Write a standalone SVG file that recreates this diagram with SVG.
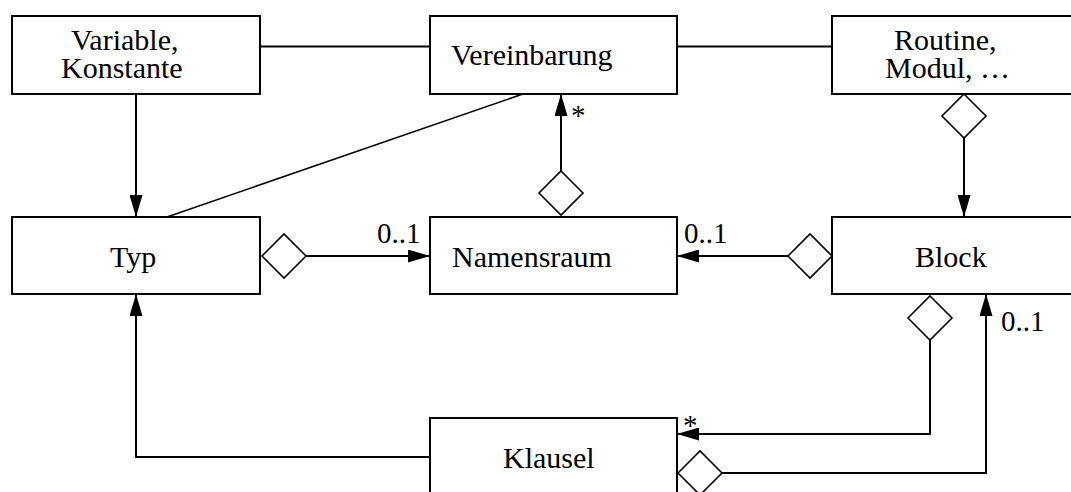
<svg xmlns="http://www.w3.org/2000/svg" width="1071" height="492" viewBox="0 0 1071 492">
  <style>
    .box { fill: #fff; stroke: #000; stroke-width: 2; }
    .lbl { font-family: "Liberation Serif", "Times New Roman", serif; font-size: 30px; fill: #000; }
    .mult { font-family: "Liberation Serif", "Times New Roman", serif; font-size: 29px; fill: #000; }
    .edge { fill: none; stroke: #000; stroke-width: 2; }
    .thin { fill: none; stroke: #000; stroke-width: 1.6; }
    .dia { fill: #fff; stroke: #000; stroke-width: 1.6; }
  </style>
  <defs>
    <marker id="arrow" viewBox="0 0 22 13" refX="22" refY="6.5" markerWidth="22" markerHeight="13" markerUnits="userSpaceOnUse" orient="auto">
      <path d="M0,0 L22,6.5 L0,13 Z" fill="#000"/>
    </marker>
  </defs>

  <!-- connectors -->
  <g id="connectors">
    <line class="edge" x1="260" y1="46.5" x2="430" y2="46.5"/>
    <line class="edge" x1="677" y1="46.5" x2="832" y2="46.5"/>
    <line class="edge" x1="136" y1="94" x2="136" y2="217" marker-end="url(#arrow)"/>
    <line class="thin" x1="167" y1="217" x2="523" y2="94"/>
    <!-- Namensraum aggregates Vereinbarung -->
    <line class="edge" x1="561" y1="171" x2="561" y2="94" marker-end="url(#arrow)"/>
    <polygon class="dia" points="561,171 583,193 561,215 539,193"/>
    <text class="mult" x="571" y="125">*</text>
    <!-- Routine aggregates Block -->
    <polygon class="dia" points="964,94 986,116 964,138 942,116"/>
    <line class="edge" x1="964" y1="138" x2="964" y2="217" marker-end="url(#arrow)"/>
    <!-- Typ aggregates Namensraum -->
    <polygon class="dia" points="262,256 284,234 306,256 284,278"/>
    <line class="edge" x1="306" y1="256" x2="430" y2="256" marker-end="url(#arrow)"/>
    <text class="mult" x="377" y="243">0..1</text>
    <!-- Block aggregates Namensraum -->
    <polygon class="dia" points="788,256 810,234 832,256 810,278"/>
    <line class="edge" x1="788" y1="256" x2="677" y2="256" marker-end="url(#arrow)"/>
    <text class="mult" x="684" y="243">0..1</text>
    <!-- Block aggregates Klausel -->
    <polygon class="dia" points="930,296 952,318 930,340 908,318"/>
    <polyline class="edge" points="930,340 930,434 677,434" marker-end="url(#arrow)"/>
    <text class="mult" x="683" y="435">*</text>
    <!-- Klausel aggregates Block -->
    <polygon class="dia" points="678,473 700,451 722,473 700,495"/>
    <polyline class="edge" points="722,473 986,473 986,294" marker-end="url(#arrow)"/>
    <text class="mult" x="1001" y="331">0..1</text>
    <!-- Klausel refers to Typ -->
    <polyline class="edge" points="430,457 136,457 136,294" marker-end="url(#arrow)"/>
  </g>

  <!-- nodes -->
  <g id="node-variable">
    <rect class="box" x="12" y="16" width="248" height="78"/>
    <text class="lbl"><tspan x="71" y="49.5">Variable,</tspan><tspan x="61" y="77.5">Konstante</tspan></text>
  </g>
  <g id="node-vereinbarung">
    <rect class="box" x="430" y="16" width="247" height="78"/>
    <text class="lbl" x="451" y="65">Vereinbarung</text>
  </g>
  <g id="node-routine">
    <rect class="box" x="832" y="16" width="248" height="78"/>
    <text class="lbl"><tspan x="894" y="49.5">Routine,</tspan><tspan x="885" y="77.5">Modul, …</tspan></text>
  </g>
  <g id="node-typ">
    <rect class="box" x="12" y="217" width="248" height="77"/>
    <text class="lbl" x="110" y="266.5">Typ</text>
  </g>
  <g id="node-namensraum">
    <rect class="box" x="430" y="217" width="247" height="77"/>
    <text class="lbl" x="452" y="266.5">Namensraum</text>
  </g>
  <g id="node-block">
    <rect class="box" x="832" y="217" width="248" height="77"/>
    <text class="lbl" x="915" y="266.5">Block</text>
  </g>
  <g id="node-klausel">
    <rect class="box" x="430" y="418" width="247" height="78"/>
    <text class="lbl" x="503" y="468">Klausel</text>
  </g>
</svg>
